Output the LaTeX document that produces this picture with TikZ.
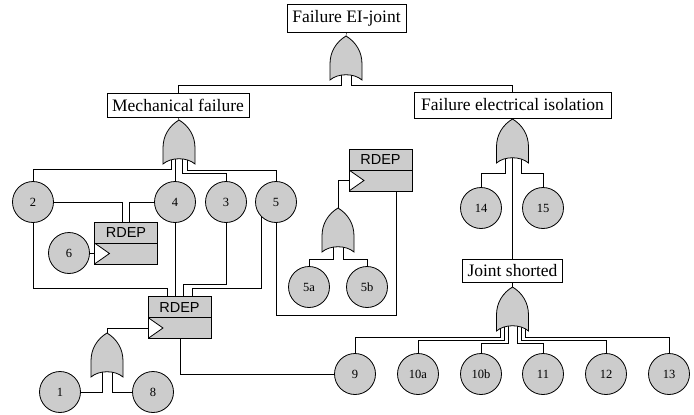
\documentclass[tikz,border=0pt]{standalone}
\usepackage{fontspec}
\setmainfont{Liberation Serif}
\newfontfamily\rdepfont{Liberation Sans}
\usetikzlibrary{calc}
\pgfdeclarelayer{bg}
\pgfsetlayers{bg,main}
\tikzset{
  orgate/.pic={
    \draw[fill=gray!40] (0,0) .. controls (10,6) and (16,16) .. (16,28) -- (16,44)
      .. controls (8,37) and (-8,37) .. (-16,44) -- (-16,28)
      .. controls (-16,16) and (-10,6) .. (0,0) -- cycle;
    \coordinate (-top) at (0,0);
    \coordinate (-bot) at (0,38);
  },
  event/.style={draw, fill=white, inner sep=0pt, font=\fontsize{17.5}{20}\selectfont},
  basic/.style={circle, draw, fill=gray!40, minimum size=41pt, inner sep=0pt, font=\fontsize{12.5}{14}\selectfont},
  rdep/.style={draw, fill=gray!40, minimum width=63pt, inner sep=0pt,
    text height=15.7pt, text depth=26.3pt, font=\rdepfont\fontsize{14.5}{16}\selectfont,
    path picture={
      \draw (path picture bounding box.west) -- (path picture bounding box.east);
      \draw[fill=white] (path picture bounding box.west)
        -- ($(path picture bounding box.west)!0.5!(path picture bounding box.south west)+(15pt,0pt)$)
        -- (path picture bounding box.south west) -- cycle;
    }},
}
\begin{document}
\begin{tikzpicture}[x=1pt,y=-1pt,line width=0.8pt]
\useasboundingbox (0,0) rectangle (694,415);
% events
\node[event, minimum width=119pt, minimum height=28pt] (top) at (346.5,18) {Failure EI-joint};
\node[event, minimum width=142pt, minimum height=24pt] (mech) at (178,105) {Mechanical failure};
\node[event, minimum width=197pt, minimum height=26pt] (elec) at (512.5,105) {Failure electrical isolation};
\node[event, minimum width=100pt, minimum height=23pt] (js) at (512.5,270.5) {Joint shorted};
% gates
\pic (g1) at (346,36) {orgate};
\pic (g2) at (179,120) {orgate};
\pic (g5) at (512.5,119) {orgate};
\pic (g6) at (512.5,287) {orgate};
\pic (g3) at (338,208) {orgate};
\pic (g4) at (107,333) {orgate};
% RDEP
\node[rdep] (r1) at (126,243) {RDEP};
\node[rdep] (r2) at (179.5,317.5) {RDEP};
\node[rdep] (r3) at (380.5,170) {RDEP};
% basic events
\node[basic] (c2) at (33,202) {2};
\node[basic] (c4) at (175,202) {4};
\node[basic] (c3) at (226,202) {3};
\node[basic] (c5) at (276,202) {5};
\node[basic] (c6) at (69,253) {6};
\node[basic] (c1) at (60,392) {1};
\node[basic] (c8) at (153,392) {8};
\node[basic] (c5a) at (309,287) {5a};
\node[basic] (c5b) at (367,287) {5b};
\node[basic] (c14) at (481,208) {14};
\node[basic] (c15) at (543,208) {15};
\node[basic] (c9) at (355,374) {9};
\node[basic] (c10a) at (418,374) {10a};
\node[basic] (c10b) at (481,374) {10b};
\node[basic] (c11) at (543,374) {11};
\node[basic] (c12) at (606,374) {12};
\node[basic] (c13) at (669,374) {13};
% connectors
\begin{pgfonlayer}{bg}
\draw (top.south) -- (g1-top);
\draw ([xshift=-5pt]g1-bot) -- ++(0,11) -| (mech.north);
\draw ([xshift=5pt]g1-bot) -- ++(0,11) -| (elec.north);
\draw (mech.south) -- (g2-top);
\draw ([xshift=-8pt]g2-bot) -- ++(0,11) -| (c2);
\draw (g2-bot -| c4) -- (c4);
\draw ([xshift=3pt]g2-bot) -- ++(0,15) -| (c3);
\draw ([xshift=8pt]g2-bot) -- ++(0,12) -| (c5);
\draw (c2.east) -| ([xshift=-4pt]r1.north);
\draw (c4.west) -| ([xshift=3pt]r1.north);
\draw (c6) -- (c6 -| r1.west);
\draw (c2.south) -- ++(0,65.5) -| ([xshift=-12.5pt]r2.north);
\draw (c4.south) -- (c4.south |- r2.north);
\draw (c3.south) -- ++(0,61.5) -| ([xshift=3.5pt]r2.north);
\draw (c5.223) -- ++(0,72) -| ([xshift=12.5pt]r2.north);
\draw (c5.south) -- ++(0,92.5) -| ([xshift=15.5pt]r3.south);
\draw (g3-top) |- ([yshift=-10.5pt]r3.west);
\draw ([xshift=-5pt]g3-bot) -- ++(0,13) -| (c5a);
\draw ([xshift=5pt]g3-bot) -- ++(0,13) -| (c5b);
\draw (g4-top) |- ([yshift=-10.5pt]r2.west);
\draw ([xshift=-5pt]g4-bot) |- (c1);
\draw ([xshift=5pt]g4-bot) |- (c8);
\draw ([xshift=0.5pt]r2.south) |- (c9);
\draw (elec.south) -- (g5-top);
\draw ([xshift=-7.5pt]g5-bot) -- ++(0,16) -| (c14);
\draw ([xshift=8.5pt]g5-bot) -- ++(0,16) -| (c15);
\draw (g5-bot) -- (js.north);
\draw (js.south) -- (g6-top);
\draw ([xshift=-12.5pt]g6-bot) -- ++(0,12) -| (c9);
\draw ([xshift=-8.5pt]g6-bot) -- ++(0,15) -| (c10a);
\draw ([xshift=-4.5pt]g6-bot) -- ++(0,18) -| (c10b);
\draw ([xshift=4.5pt]g6-bot) -- ++(0,18) -| (c11);
\draw ([xshift=8.5pt]g6-bot) -- ++(0,15) -| (c12);
\draw ([xshift=12.5pt]g6-bot) -- ++(0,12) -| (c13);
\end{pgfonlayer}
\end{tikzpicture}
\end{document}
